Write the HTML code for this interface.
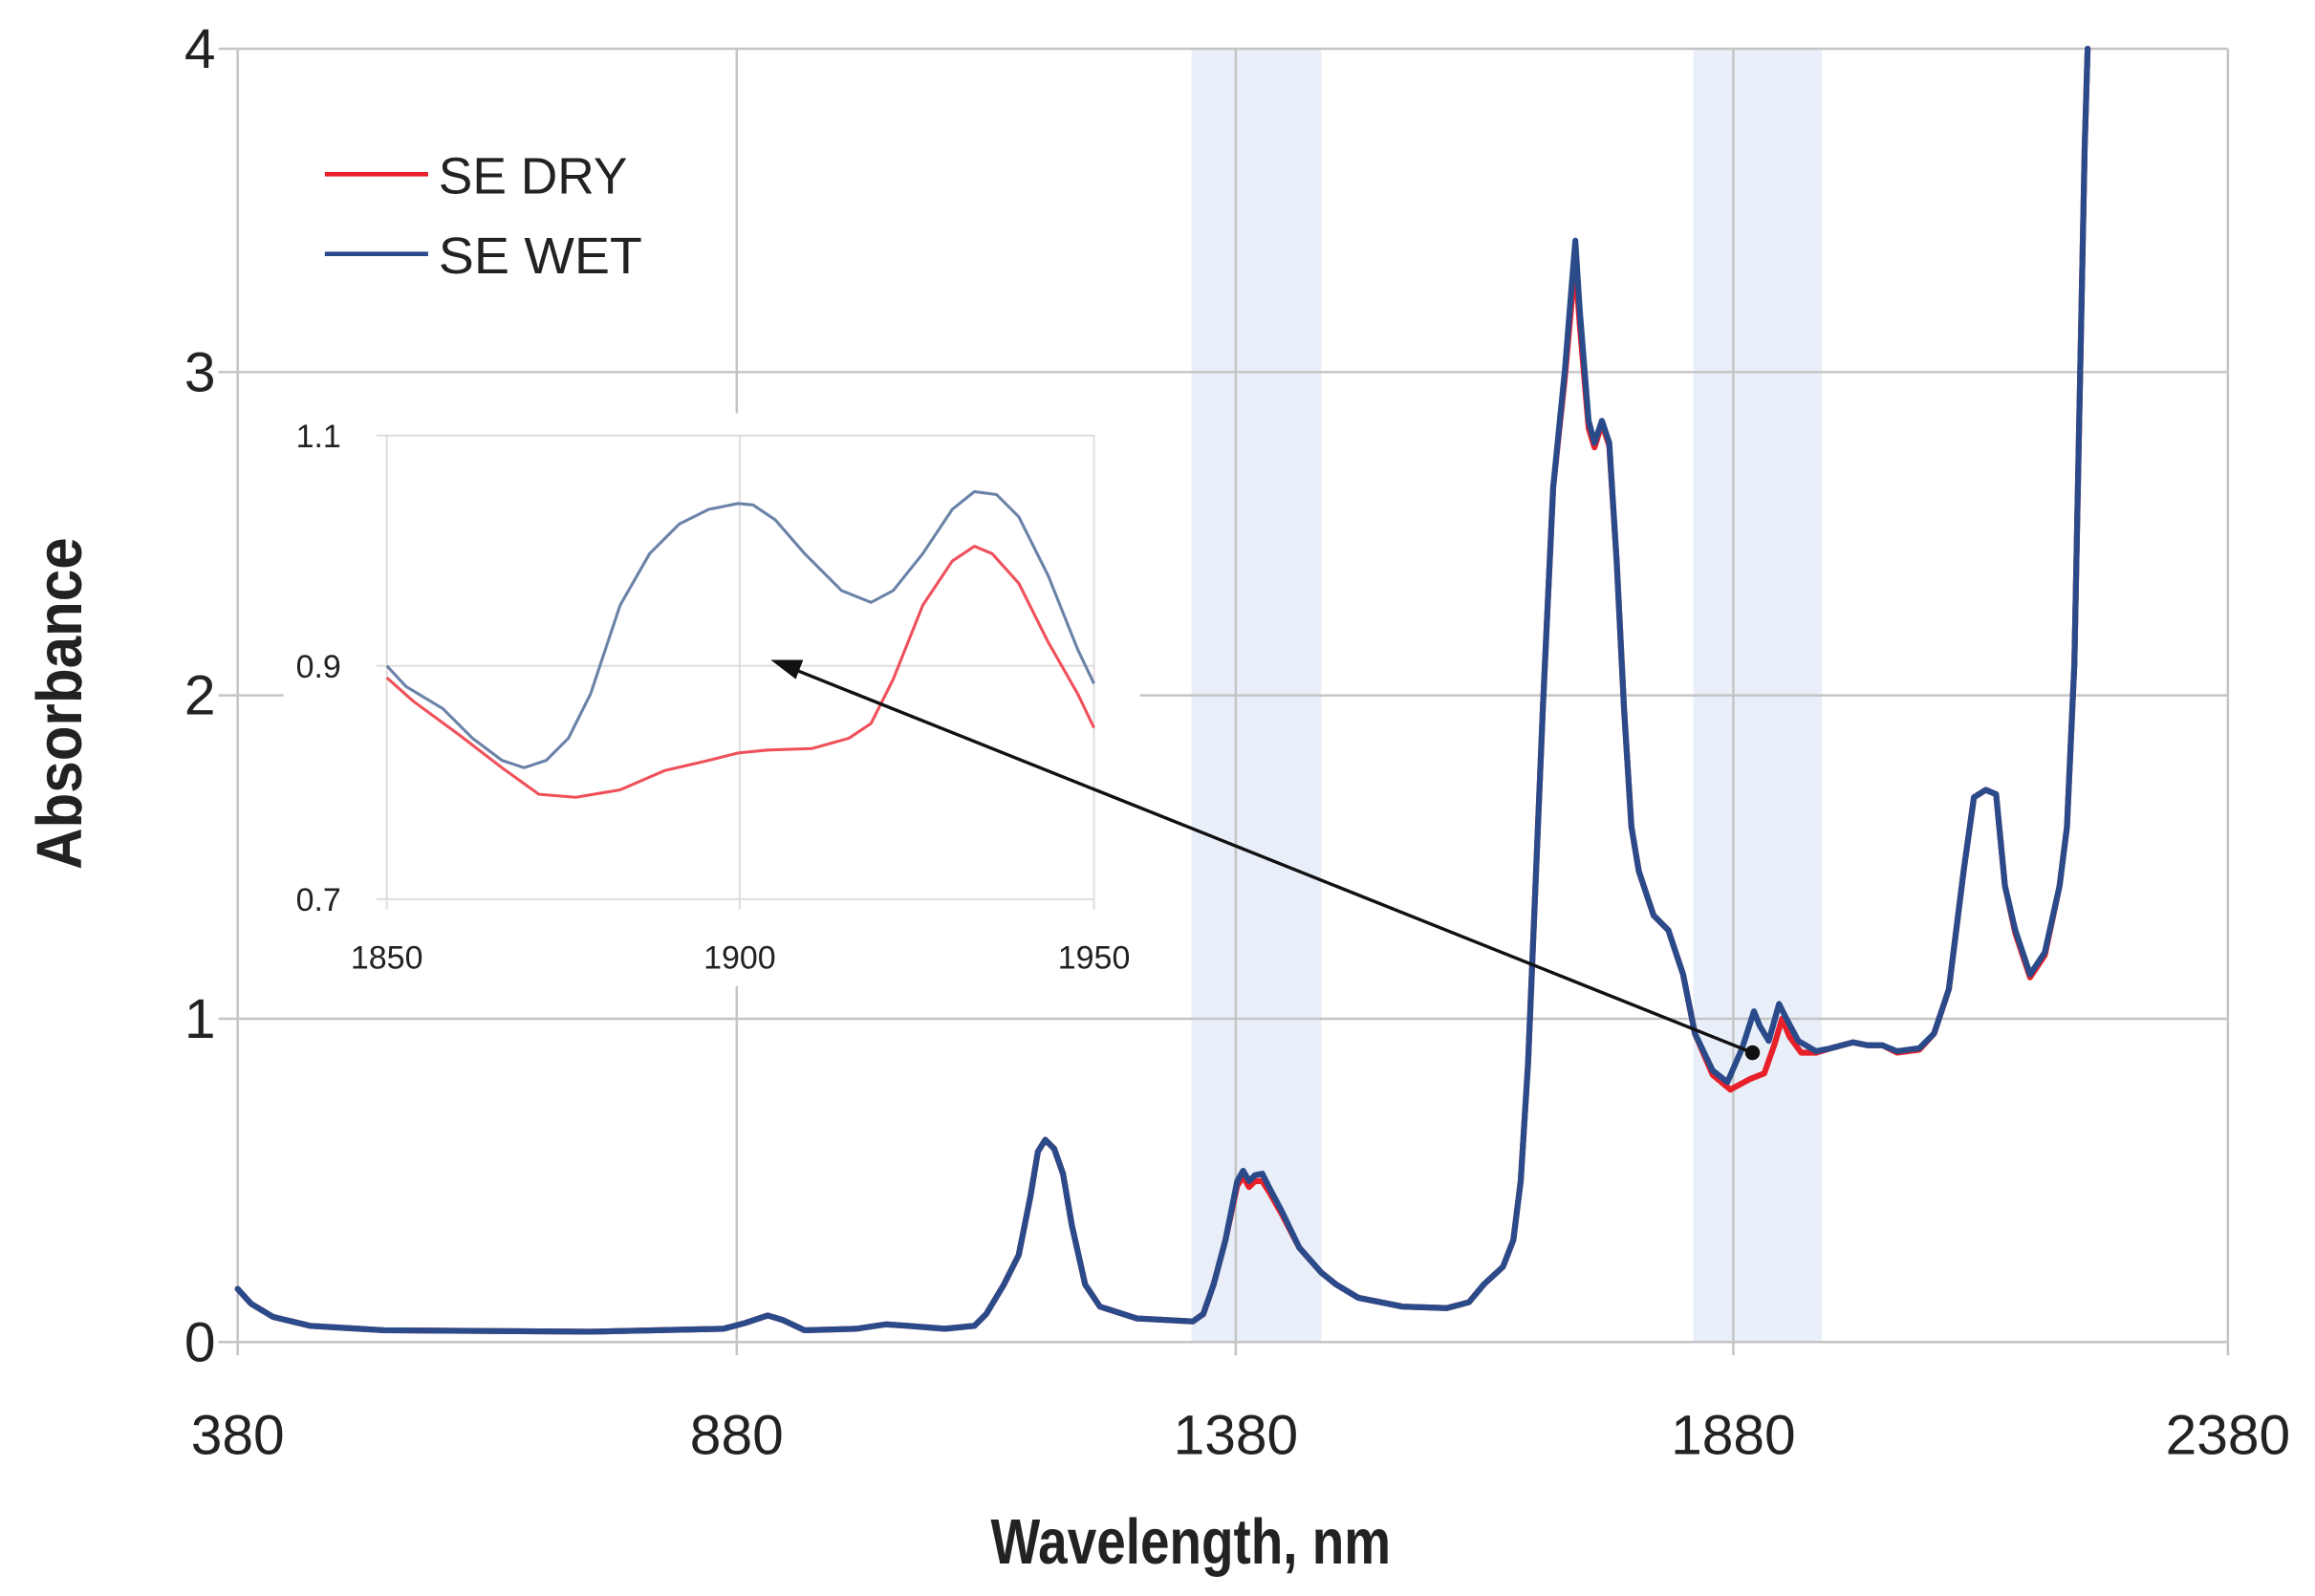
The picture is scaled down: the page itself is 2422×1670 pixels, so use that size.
<!DOCTYPE html>
<html><head><meta charset="utf-8"><style>
html,body{margin:0;padding:0;background:#fff;}
svg{display:block;}
text{font-family:"Liberation Sans",sans-serif;fill:#222;}
</style></head><body>
<svg width="2422" height="1670" viewBox="0 0 1568 1081" preserveAspectRatio="none" xmlns="http://www.w3.org/2000/svg">
<rect width="1568" height="1081" fill="#fff"/>
<!-- shaded bands -->
<rect x="807" y="33" width="88" height="876" fill="#e8eff9"/>
<rect x="1147" y="33" width="87" height="876" fill="#e8eff9"/>
<!-- gridlines -->
<g stroke="#c4c4c4" stroke-width="1.6">
<line x1="148" y1="33" x2="1509" y2="33"/>
<line x1="148" y1="252" x2="1509" y2="252"/>
<line x1="148" y1="471" x2="1509" y2="471"/>
<line x1="148" y1="690" x2="1509" y2="690"/>
<line x1="148" y1="909" x2="1509" y2="909"/>
<line x1="161" y1="33" x2="161" y2="918"/>
<line x1="499" y1="33" x2="499" y2="918"/>
<line x1="837" y1="33" x2="837" y2="918"/>
<line x1="1174" y1="33" x2="1174" y2="918"/>
<line x1="1509" y1="33" x2="1509" y2="918"/>
</g>
<!-- tick labels -->
<g font-size="38" text-anchor="end">
<text x="146" y="46">4</text>
<text x="146" y="265">3</text>
<text x="146" y="484">2</text>
<text x="146" y="703">1</text>
<text x="146" y="922">0</text>
</g>
<g font-size="38" text-anchor="middle">
<text x="161" y="985">380</text>
<text x="499" y="985">880</text>
<text x="837" y="985">1380</text>
<text x="1174" y="985">1880</text>
<text x="1509" y="985">2380</text>
</g>
<text x="671" y="1059" font-size="43" font-weight="bold" fill="#111" textLength="271" lengthAdjust="spacingAndGlyphs">Wavelength, nm</text>
<text transform="translate(55,589) rotate(-90)" font-size="43" font-weight="bold" fill="#111" textLength="225" lengthAdjust="spacingAndGlyphs">Absorbance</text>
<!-- legend -->
<line x1="220" y1="118" x2="290" y2="118" stroke="#e8202a" stroke-width="3"/>
<line x1="220" y1="172" x2="290" y2="172" stroke="#2a4a8a" stroke-width="3"/>
<g font-size="35" fill="#333">
<text x="297" y="131" textLength="128" lengthAdjust="spacingAndGlyphs">SE DRY</text>
<text x="297" y="185" textLength="138" lengthAdjust="spacingAndGlyphs">SE WET</text>
</g>
<!-- main curves -->
<g fill="none" stroke-width="4" stroke-linejoin="round" stroke-linecap="round">
<path stroke="#e8202a" d="M161,873 L170,883 L185,892 L210,898 L260,901 L400,902 L490,900 L505,896 L520,891 L530,894 L545,901 L580,900 L600,897 L615,898 L640,900 L660,898 L668,890 L680,870 L690,850 L698,810 L703,780 L708,772 L714,778 L720,795 L726,830 L735,870 L745,885 L770,893 L808,895 L815,890 L822,870 L830,840 L838,803 L842,797 L846,804 L850,800 L855,800 L860,808 L868,822 L880,845 L895,862 L905,870 L920,879 L950,885 L980,886 L995,882 L1005,870 L1018,858 L1025,840 L1030,800 L1035,720 L1040,600 L1045,480 L1052,330 L1060,255 L1064,210 L1067,178 L1070,220 L1076,290 L1080,303 L1085,287 L1090,302 L1095,380 L1100,480 L1105,560 L1110,590 L1120,620 L1130,630 L1140,660 L1148,700 L1160,728 L1172,738 L1185,731 L1195,727 L1202,707 L1207,690 L1212,702 L1220,713 L1230,713 L1240,710 L1255,706 L1265,708 L1275,708 L1285,713 L1300,711 L1310,700 L1320,670 L1330,590 L1337,540 L1345,535 L1352,538 L1358,600 L1365,632 L1375,662 L1385,647 L1395,600 L1400,560 L1405,450 L1409,250 L1412,100 L1414,33"/>
<path stroke="#2a4a8a" d="M161,873 L170,883 L185,892 L210,898 L260,901 L400,902 L490,900 L505,896 L520,891 L530,894 L545,901 L580,900 L600,897 L615,898 L640,900 L660,898 L668,890 L680,870 L690,850 L698,810 L703,780 L708,772 L714,778 L720,795 L726,830 L735,870 L745,885 L770,893 L808,895 L815,890 L822,870 L830,840 L838,800 L842,793 L846,800 L850,796 L855,795 L860,805 L868,820 L880,845 L895,862 L905,870 L920,879 L950,885 L980,886 L995,882 L1005,870 L1018,858 L1025,840 L1030,800 L1035,720 L1040,600 L1045,480 L1052,330 L1060,250 L1064,200 L1067,163 L1070,210 L1076,285 L1080,300 L1085,285 L1090,300 L1095,380 L1100,480 L1105,560 L1110,590 L1120,620 L1130,630 L1140,660 L1148,700 L1160,725 L1170,733 L1180,710 L1188,685 L1192,695 L1198,705 L1205,680 L1210,690 L1218,705 L1230,712 L1240,710 L1255,706 L1265,708 L1275,708 L1285,712 L1300,710 L1310,700 L1320,670 L1330,590 L1337,540 L1345,535 L1352,538 L1358,600 L1365,630 L1375,660 L1385,645 L1395,600 L1400,560 L1405,450 L1409,250 L1412,100 L1414,33"/>
</g>
<!-- inset -->
<rect x="192" y="280" width="580" height="388" fill="#fff"/>
<g stroke="#dcdcdc" stroke-width="1.2" fill="none">
<rect x="262" y="295" width="479" height="314"/>
<line x1="262" y1="451" x2="741" y2="451"/>
<line x1="501" y1="295" x2="501" y2="609"/>
<line x1="255" y1="295" x2="262" y2="295"/>
<line x1="255" y1="451" x2="262" y2="451"/>
<line x1="255" y1="609" x2="262" y2="609"/>
<line x1="262" y1="609" x2="262" y2="616"/>
<line x1="501" y1="609" x2="501" y2="616"/>
<line x1="741" y1="609" x2="741" y2="616"/>
</g>
<g font-size="22" fill="#444" text-anchor="end">
<text x="231" y="303">1.1</text>
<text x="231" y="459">0.9</text>
<text x="231" y="617">0.7</text>
</g>
<g font-size="22" fill="#444" text-anchor="middle">
<text x="262" y="656">1850</text>
<text x="501" y="656">1900</text>
<text x="741" y="656">1950</text>
</g>
<g fill="none" stroke-width="2" stroke-linejoin="round">
<path stroke="#6b82a8" d="M262,451 L275,465 L300,480 L320,500 L340,515 L355,520 L370,515 L385,500 L400,470 L420,410 L440,375 L460,355 L480,345 L500,341 L510,342 L525,352 L545,375 L570,400 L590,408 L605,400 L625,375 L645,345 L660,333 L675,335 L690,350 L710,390 L730,440 L741,463"/>
<path stroke="#f0505a" d="M262,459 L280,475 L310,497 L340,520 L365,538 L390,540 L420,535 L450,522 L480,515 L500,510 L520,508 L550,507 L575,500 L590,490 L605,460 L625,410 L645,380 L660,370 L672,375 L690,395 L710,435 L730,470 L741,493"/>
</g>
<!-- arrow -->
<line x1="1187" y1="713" x2="532" y2="451" stroke="#111" stroke-width="2.2"/>
<polygon points="522,447 544,447 539,460" fill="#111"/>
<circle cx="1187" cy="713" r="5" fill="#111"/>
</svg>
</body></html>
